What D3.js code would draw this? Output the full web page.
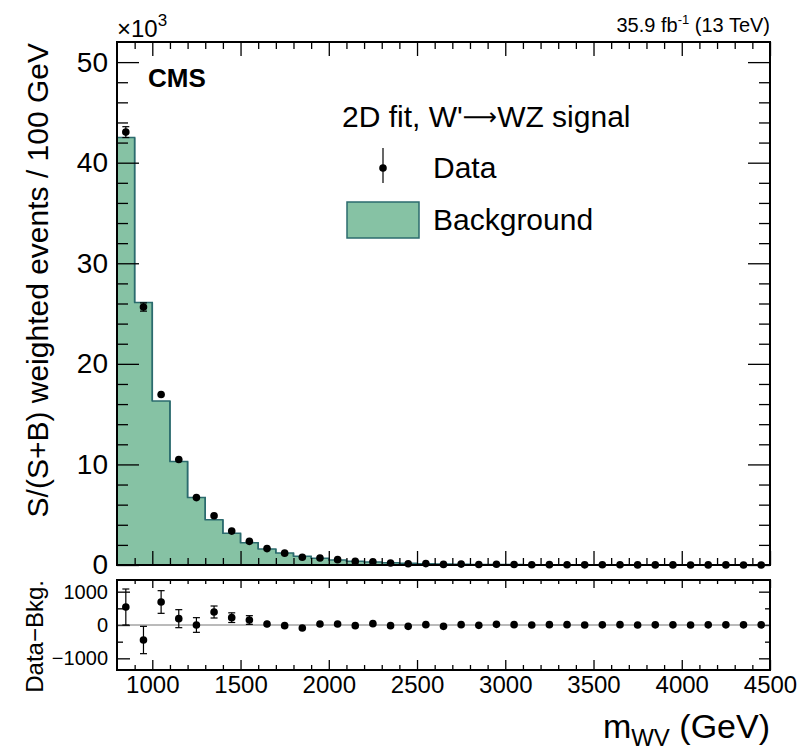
<!DOCTYPE html>
<html>
    <head>
        <meta charset="utf-8">
        <style>
            body { margin: 0; background: #fff; }
            svg { font-family: "Liberation Sans", Arial, sans-serif; }
        </style>
    </head>
    <body>
        <svg></svg>

        <script src="https://d3js.org/d3.v7.min.js"></script>

        <script>
            // bin edges in GeV (100 GeV bins)
            const edges = [800, 900, 1000, 1100, 1200, 1300, 1400, 1500, 1600, 1700, 1800, 1900,
                2000, 2100, 2200, 2300, 2400, 2500, 2600, 2700, 2800, 2900, 3000, 3100,
                3200, 3300, 3400, 3500, 3600, 3700, 3800, 3900, 4000, 4100, 4200, 4300, 4400, 4500];

            // background (x10^3)
            const background = [42.5, 26.1, 16.3, 10.3, 6.7, 4.5, 3.15, 2.2, 1.6, 1.2, 0.86, 0.66,
                0.5, 0.38, 0.29, 0.22, 0.17, 0.13, 0.1, 0.08, 0.06, 0.05, 0.04, 0.03,
                0.025, 0.02, 0.016, 0.013, 0.01, 0.008, 0.006, 0.005, 0.004, 0.003, 0.003, 0.002, 0.002];

            // data (x10^3)
            const data = [43.04, 25.65, 16.95, 10.49, 6.7, 4.89, 3.37, 2.35, 1.63, 1.18, 0.77, 0.69,
                0.53, 0.36, 0.33, 0.2, 0.13, 0.14, 0.06, 0.09, 0.05, 0.07, 0.05, 0.03,
                0.035, 0.03, 0.016, 0.018, 0.02, 0.008, 0.011, 0.01, 0.004, 0.008, 0.008, 0.007, 0.007];

            // data - background (events)
            const diff = [540, -450, 690, 190, 0, 390, 220, 150, 30, -20, -90, 30,
                30, -20, 40, -20, -40, 10, -40, 10, -10, 20, 10, 0,
                10, 10, 0, 5, 10, 0, 5, 5, 0, 5, 5, 5, 5];

            // statistical uncertainty (events)
            const errors = [540, 410, 340, 270, 220, 180, 145, 130, 100, 80, 65, 55,
                45, 40, 35, 30, 25, 22, 20, 18, 15, 14, 12, 10,
                10, 9, 8, 7, 6, 6, 5, 5, 4, 4, 4, 3, 3];

            const yTicks = [0, 10, 20, 30, 40, 50];
            const rTicks = [-1000, 0, 1000];
            const xTicks = [1000, 1500, 2000, 2500, 3000, 3500, 4000, 4500];

            const width = 804,
                height = 751;
            const L = 117, R = 770, T1 = 42, B1 = 565, T2 = 580, B2 = 670;
            const fillColor = "#86c2a4", lineColor = "#2b6b6e";

            const svg = d3.select("svg")
                        .attr("width", width)
                        .attr("height", height);

            const x = d3.scaleLinear().domain([800, 4500]).range([L, R]);
            const y = d3.scaleLinear().domain([0, 52]).range([B1, T1]);
            const yr = d3.scaleLinear().domain([-1350, 1350]).range([B2, T2]);

            const centers = edges.slice(0, -1).map(function(e, i) { return (e + edges[i + 1]) / 2; });

            // background histogram
            const steps = background.map(function(v, i) { return [edges[i], v]; });
            steps.push([edges[edges.length - 1], background[background.length - 1]]);

            svg.append("path")
                .datum(steps)
                .attr("fill", fillColor)
                .attr("d", d3.area().curve(d3.curveStepAfter)
                    .x(function(d) { return x(d[0]); })
                    .y0(y(0))
                    .y1(function(d) { return y(d[1]); }));

            svg.append("path")
                .datum(steps)
                .attr("fill", "none")
                .attr("stroke", lineColor)
                .attr("stroke-width", 1.5)
                .attr("d", d3.line().curve(d3.curveStepAfter)
                    .x(function(d) { return x(d[0]); })
                    .y(function(d) { return y(d[1]); }));

            // vertical lines between bins
            svg.append("g").selectAll("line")
                .data(background.slice(1))
                .enter()
                .append("line")
                .attr("x1", function(d, i) { return x(edges[i + 1]); })
                .attr("x2", function(d, i) { return x(edges[i + 1]); })
                .attr("y1", function(d, i) { return y(background[i]); })
                .attr("y2", function(d, i) { return y(d); })
                .attr("stroke", lineColor)
                .attr("stroke-width", 1.5);

            // ticks
            const fmt = function(d) { return d < 0 ? "\u2212" + Math.abs(d) : String(d); };
            function ticks(g, axis, values, size, labels, pad) {
                const a = axis.tickValues(values).tickSize(size).tickPadding(pad || 0);
                a.tickFormat(labels ? fmt : "");
                g.call(a);
                g.select(".domain").remove();
                g.selectAll("line").attr("stroke", "#000").attr("stroke-width", 1.3);
                g.selectAll("text").attr("fill", "#000");
                return g;
            }
            const minorY = d3.range(0, 52, 2).filter(function(v) { return v % 10 !== 0; });
            const minorX = d3.range(900, 4500, 100).filter(function(v) { return v % 500 !== 0; });
            const minorR = [-500, 500];

            ticks(svg.append("g").attr("transform", "translate(" + L + ",0)"), d3.axisLeft(y), yTicks, -22, true, 9)
                .attr("font-size", 28);
            ticks(svg.append("g").attr("transform", "translate(" + L + ",0)"), d3.axisLeft(y), minorY, -11);
            ticks(svg.append("g").attr("transform", "translate(" + R + ",0)"), d3.axisRight(y), yTicks, -22);
            ticks(svg.append("g").attr("transform", "translate(" + R + ",0)"), d3.axisRight(y), minorY, -11);
            ticks(svg.append("g").attr("transform", "translate(0," + B1 + ")"), d3.axisBottom(x), xTicks, -14);
            ticks(svg.append("g").attr("transform", "translate(0," + B1 + ")"), d3.axisBottom(x), minorX, -7);
            ticks(svg.append("g").attr("transform", "translate(0," + T1 + ")"), d3.axisTop(x), xTicks, -14);
            ticks(svg.append("g").attr("transform", "translate(0," + T1 + ")"), d3.axisTop(x), minorX, -7);

            ticks(svg.append("g").attr("transform", "translate(" + L + ",0)"), d3.axisLeft(yr), rTicks, -13, true, 9)
                .attr("font-size", 20);
            ticks(svg.append("g").attr("transform", "translate(" + L + ",0)"), d3.axisLeft(yr), minorR, -6);
            ticks(svg.append("g").attr("transform", "translate(" + R + ",0)"), d3.axisRight(yr), rTicks, -11);
            ticks(svg.append("g").attr("transform", "translate(" + R + ",0)"), d3.axisRight(yr), minorR, -5);
            ticks(svg.append("g").attr("transform", "translate(0," + B2 + ")"), d3.axisBottom(x), xTicks, -10, true, 6)
                .attr("font-size", 24);
            ticks(svg.append("g").attr("transform", "translate(0," + B2 + ")"), d3.axisBottom(x), minorX, -5);
            ticks(svg.append("g").attr("transform", "translate(0," + T2 + ")"), d3.axisTop(x), xTicks, -8);
            ticks(svg.append("g").attr("transform", "translate(0," + T2 + ")"), d3.axisTop(x), minorX, -4);

            // zero line in lower pad
            svg.append("line")
                .attr("x1", L).attr("x2", R)
                .attr("y1", yr(0)).attr("y2", yr(0))
                .attr("stroke", "#777")
                .attr("stroke-width", 1);

            // frames
            svg.append("rect")
                .attr("x", L).attr("y", T1)
                .attr("width", R - L).attr("height", B1 - T1)
                .attr("fill", "none").attr("stroke", "#000").attr("stroke-width", 2);
            svg.append("rect")
                .attr("x", L).attr("y", T2)
                .attr("width", R - L).attr("height", B2 - T2)
                .attr("fill", "none").attr("stroke", "#000").attr("stroke-width", 2);

            // data points with error bars
            function points(vals, errs, scale) {
                const g = svg.append("g")
                            .selectAll("g")
                            .data(vals)
                            .enter()
                            .append("g")
                            .attr("transform", function(d, i) { return "translate(" + x(centers[i]) + "," + scale(d) + ")"; });

                g.append("line")
                    .attr("y1", function(d, i) { return scale(d + errs[i]) - scale(d); })
                    .attr("y2", function(d, i) { return scale(d - errs[i]) - scale(d); })
                    .attr("stroke", "#000")
                    .attr("stroke-width", 1.2);

                g.filter(function(d, i) { return scale(d - errs[i]) - scale(d) > 4; })
                    .each(function(d, i) {
                        const e = scale(d - errs[i]) - scale(d);
                        d3.select(this).selectAll("line.cap")
                            .data([-e, e])
                            .enter()
                            .append("line")
                            .attr("class", "cap")
                            .attr("x1", -3.5).attr("x2", 3.5)
                            .attr("y1", function(c) { return c; })
                            .attr("y2", function(c) { return c; })
                            .attr("stroke", "#000")
                            .attr("stroke-width", 1.2);
                    });

                g.append("circle")
                    .attr("r", 3.8)
                    .attr("fill", "#000");
            }
            points(data, errors.map(function(e) { return e / 1000; }), y);
            points(diff, errors, yr);

            // texts
            svg.append("text")
                .attr("transform", "translate(48," + 43 + ") rotate(-90)")
                .attr("text-anchor", "end")
                .attr("font-size", 30)
                .text("S/(S+B) weighted events / 100 GeV");

            svg.append("text")
                .attr("transform", "translate(43," + 580 + ") rotate(-90)")
                .attr("text-anchor", "end")
                .attr("font-size", 24)
                .text("Data\u2212Bkg.");

            const xt = svg.append("text")
                .attr("x", R)
                .attr("y", 738)
                .attr("text-anchor", "end")
                .attr("font-size", 34);
            xt.append("tspan").text("m");
            xt.append("tspan").attr("font-size", 24).attr("dy", 8).text("WV");
            xt.append("tspan").attr("dy", -8).text(" (GeV)");

            const exp = svg.append("text")
                .attr("x", L)
                .attr("y", 37)
                .attr("font-size", 24);
            exp.append("tspan").text("\u00d710");
            exp.append("tspan").attr("font-size", 17).attr("dy", -11).text("3");

            const lumi = svg.append("text")
                .attr("x", R)
                .attr("y", 32)
                .attr("text-anchor", "end")
                .attr("font-size", 20);
            lumi.append("tspan").text("35.9 fb");
            lumi.append("tspan").attr("font-size", 13).attr("dy", -8).text("-1");
            lumi.append("tspan").attr("dy", 8).text(" (13 TeV)");

            svg.append("text")
                .attr("x", 148)
                .attr("y", 87)
                .attr("font-size", 26)
                .attr("font-weight", "bold")
                .text("CMS");

            // legend
            const head = svg.append("text")
                .attr("x", 342)
                .attr("y", 127)
                .attr("font-size", 30);
            head.append("tspan").text("2D fit, W'");
            head.append("tspan").attr("font-family", "DejaVu Sans").attr("font-size", 24).attr("dy", -2).text("\u27f6");
            head.append("tspan").attr("dy", 2).text("WZ signal");

            svg.append("line")
                .attr("x1", 383).attr("x2", 383)
                .attr("y1", 148).attr("y2", 183)
                .attr("stroke", "#000").attr("stroke-width", 1.2);
            svg.append("circle")
                .attr("cx", 383).attr("cy", 168)
                .attr("r", 3.8).attr("fill", "#000");
            svg.append("text")
                .attr("x", 433)
                .attr("y", 178)
                .attr("font-size", 30)
                .text("Data");

            svg.append("rect")
                .attr("x", 347).attr("y", 202)
                .attr("width", 72).attr("height", 36)
                .attr("fill", fillColor)
                .attr("stroke", lineColor)
                .attr("stroke-width", 1.5);
            svg.append("text")
                .attr("x", 433)
                .attr("y", 230)
                .attr("font-size", 30)
                .text("Background");
        </script>
    </body>
</html>
